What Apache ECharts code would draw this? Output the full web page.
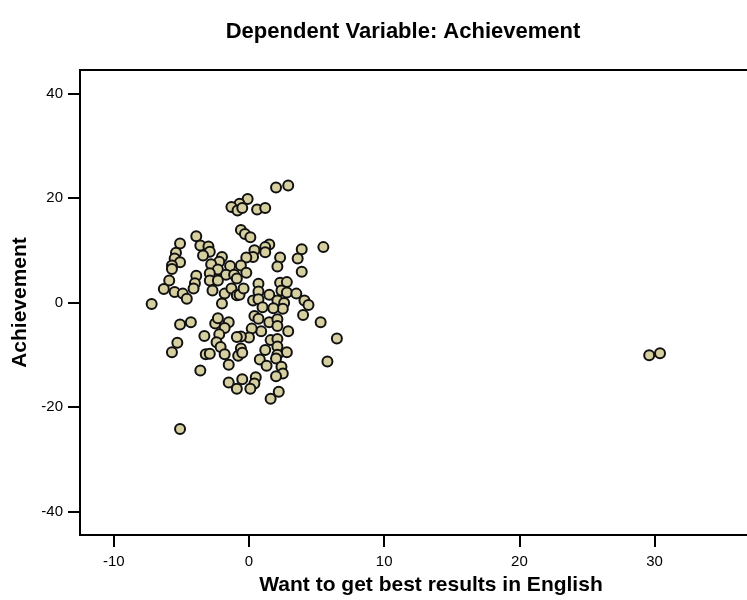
<!DOCTYPE html>
<html>
<head>
<meta charset="utf-8">
<script src="https://cdn.jsdelivr.net/npm/echarts@6/dist/echarts.min.js"></script>
<style>
  html, body { margin: 0; padding: 0; background: #fff; }
  #chart { width: 747px; height: 600px; }
</style>
</head>
<body>
<div id="chart"></div>
<script>
// Partial regression plot values (x = want to get best results in English, y = achievement)
const xValues = [
  2.0, 2.9, -0.1, -0.7, -1.3, -0.85, -0.5, 0.6, 1.2, -0.6, -0.3, 0.1, -3.9,
  -5.1, -3.6, -3.0, -2.9, -3.4, -5.4, -5.5, -5.1, -5.7, -5.7, 1.5, 1.2, 0.4, 1.2,
  0.3, -0.2, 2.3, 2.1, 3.9, 3.6, 5.5, 3.9, -2.0, -2.2, -2.8, -2.3, -1.4, -0.6,
  -0.2, -1.7, -1.1, -2.9, -3.9,
  -2.9, -2.3, -0.9, -4.0, -4.1, -5.9, -6.3, -5.5, -4.9, -4.6, -2.7, -1.8, -1.3,
  -0.9, -0.7, -0.4, 0.7, 0.7, 0.3, 0.7, 1.5, 2.3, 2.8, 2.4, 2.8, 3.5, 2.1,
  -7.2, -2.0, 2.6, 4.1, 4.4, 1.0, 2.5, 1.8, 0.4, 4.0, 5.3, 1.5, 2.1, 2.1, 2.9,
  0.9, 0.2, -5.1, -4.3, -2.5, -2.3, -1.5, -1.8, 0.7,
  6.5, 0.0, -0.6, -0.9, -2.2, -3.3, -5.3, -5.7, -2.4, -2.1, -3.2, -2.9, -1.8,
  -0.8, -0.6, -0.5, -1.5, 1.6, 2.1, 2.1, 1.2, 2.8, 2.1, 0.8, 1.3, 2.0, 2.4,
  5.8, -3.6,
  2.5, 2.0, 0.5, 0.4, 0.1, -0.5, -1.5, -0.9, 2.2, 1.6, -5.1,
  29.6, 30.4
];
const yValues = [
  22.0, 22.4, 19.8, 18.9, 18.3, 17.6, 18.1, 17.8, 18.1, 13.9, 13.1, 12.5, 12.7,
  11.3, 10.9, 10.7, 9.7, 9.0, 9.5, 8.4, 7.7, 7.1, 6.4, 11.1, 10.6, 10.0, 9.6,
  8.7, 8.6, 8.6, 6.9, 10.2, 8.4, 10.6, 5.9, 8.7, 7.8, 7.3, 6.3, 7.0, 7.1,
  5.7, 5.3, 5.3, 5.6, 5.1,
  4.2, 4.2, 4.6, 3.7, 2.7, 4.2, 2.6, 2.0, 1.7, 0.7, 2.3, 1.7, 2.7,
  1.4, 1.5, 2.7, 3.6, 2.1, 0.4, 0.6, 1.5, 3.8, 3.9, 2.3, 1.9, 1.7, 0.4,
  -0.3, -0.2, -0.1, 0.4, -0.5, -0.9, -1.2, -1.1, -2.6, -2.4, -3.8, -3.8, -3.2, -4.5, -5.5,
  -5.5, -5.0, -4.2, -3.8, -4.0, -3.0, -3.8, -4.9, -3.1,
  -6.9, -6.7, -6.5, -6.6, -6.1, -6.4, -7.7, -9.5, -7.6, -8.5, -9.9, -9.8, -9.9,
  -10.2, -8.8, -9.6, -11.9, -7.2, -7.0, -8.4, -9.1, -9.5, -10.0, -10.9, -12.1, -10.7, -12.3,
  -11.3, -13.0,
  -13.6, -14.1, -14.3, -15.5, -16.5, -14.7, -15.3, -16.5, -17.1, -18.4, -24.2,
  -10.1, -9.7
];
const xTicks = [-10, 0, 10, 20, 30];
const yTicks = [-40, -20, 0, 20, 40];

const points = xValues.map((x, i) => [x, yValues[i]]);

const chart = echarts.init(document.getElementById("chart"));

const font = "'Liberation Sans', Arial, sans-serif";

const option = {
  backgroundColor: "#fff",
  animation: false,
  title: {
    text: "Dependent Variable: Achievement",
    left: 398,
    top: 16,
    textAlign: "center",
    textStyle: {
      fontFamily: font,
      fontSize: 22,
      fontWeight: "bold",
      color: "#000",
    },
  },
  grid: {
    left: 80,
    top: 70,
    width: 676, // right edge runs past the canvas, like the reference
    bottom: 65,
    outerBoundsMode: "none",
    show: true,
    borderColor: "#000",
    borderWidth: 2,
    backgroundColor: "#fff",
  },
  xAxis: {
    type: "value",
    min: -12.5,
    max: 37.5,
    name: "Want to get best results in English",
    nameLocation: "middle",
    nameGap: 40,
    nameTextStyle: {
      fontFamily: font,
      fontSize: 21,
      fontWeight: "bold",
      color: "#000",
      padding: [0, 0, 0, 26],
    },
    axisLine: { onZero: false, lineStyle: { color: "#000", width: 2 } },
    axisTick: {
      length: 12,
      lineStyle: { color: "#000", width: 2 },
      customValues: xTicks,
    },
    axisLabel: {
      fontFamily: font,
      fontSize: 15,
      color: "#000",
      margin: 19,
      customValues: xTicks,
    },
    splitLine: { show: false },
  },
  yAxis: {
    type: "value",
    min: -44.5,
    max: 44.5,
    name: "Achievement",
    nameLocation: "middle",
    nameGap: 45,
    nameTextStyle: {
      fontFamily: font,
      fontSize: 21,
      fontWeight: "bold",
      color: "#000",
    },
    axisLine: { onZero: false, lineStyle: { color: "#000", width: 2 } },
    axisTick: {
      length: 12,
      lineStyle: { color: "#000", width: 2 },
      customValues: yTicks,
    },
    axisLabel: {
      fontFamily: font,
      fontSize: 15,
      color: "#000",
      margin: 17,
      customValues: yTicks,
    },
    splitLine: { show: false },
  },
  series: [
    {
      type: "scatter",
      data: points,
      symbol: "circle",
      symbolSize: 10,
      itemStyle: {
        color: "#d6cf9f",
        borderColor: "#111",
        borderWidth: 2,
        opacity: 1,
      },
    },
  ],
};

chart.setOption(option);
</script>
</body>
</html>
